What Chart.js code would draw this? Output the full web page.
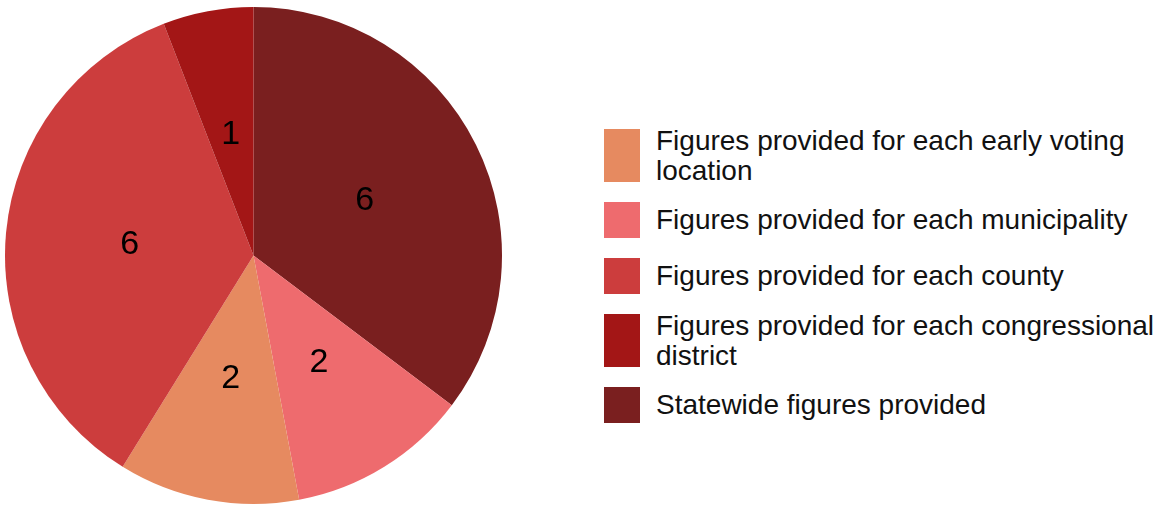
<!DOCTYPE html>
<html>
<head>
<meta charset="utf-8">
<script src="https://cdn.jsdelivr.net/npm/chart.js@4"></script>
<style>
    body { margin: 0; background: #fff; font-family: "Liberation Sans", Arial, sans-serif; }
    #wrap { position: relative; width: 1167px; height: 507px; overflow: hidden; }
    #pie-box { position: absolute; left: 0; top: 0; width: 507px; height: 507px; }
    #legend { position: absolute; left: 604px; top: 129px; margin: 0; padding: 0; list-style: none; }
    #legend li { display: flex; align-items: center; margin-bottom: 20px; }
    #legend .swatch { width: 36px; flex: none; }
    #legend .text { width: 508px; margin-left: 16px; font-size: 28px; line-height: 30px; color: #111; }
</style>
</head>
<body>
<div id="wrap">
    <div id="pie-box"><canvas id="pie"></canvas></div>
    <ul id="legend"></ul>
</div>
<script>
document.addEventListener('DOMContentLoaded', () => {
    // Slices, clockwise from 12 o'clock
    const categories = [
        'Statewide figures provided',
        'Figures provided for each municipality',
        'Figures provided for each early voting location',
        'Figures provided for each county',
        'Figures provided for each congressional district',
    ];
    const counts = [6, 2, 2, 6, 1];
    const sliceColors = ['#7a1f1f', '#ee6b6e', '#e68a60', '#cc3d3d', '#a31616'];
    // Order the legend lists the slices in
    const legendOrder = [2, 1, 3, 4, 0];

    // Writes each slice's count halfway out along its middle angle
    const sliceValues = {
        id: 'sliceValues',
        afterDatasetsDraw(chart) {
            const ctx = chart.ctx;
            const meta = chart.getDatasetMeta(0);
            ctx.save();
            ctx.font = '34px "Liberation Sans", Arial, sans-serif';
            ctx.fillStyle = '#000';
            ctx.textAlign = 'center';
            ctx.textBaseline = 'middle';
            meta.data.forEach((arc, i) => {
                const pos = arc.tooltipPosition();
                ctx.fillText(String(chart.data.datasets[0].data[i]), pos.x, pos.y + 1);
            });
            ctx.restore();
        },
    };

    // Legend built as a list next to the canvas
    const htmlLegend = {
        id: 'htmlLegend',
        afterUpdate(chart) {
            const list = document.getElementById('legend');
            list.innerHTML = '';
            const items = chart.options.plugins.legend.labels.generateLabels(chart);
            legendOrder.forEach((idx) => {
                const item = items[idx];
                const li = document.createElement('li');
                const swatch = document.createElement('span');
                swatch.className = 'swatch';
                swatch.style.background = item.fillStyle;
                const text = document.createElement('span');
                text.className = 'text';
                text.textContent = item.text;
                li.appendChild(swatch);
                li.appendChild(text);
                list.appendChild(li);

                const lines = Math.round(text.offsetHeight / 30);
                const h = 36 + 17 * (lines - 1);
                swatch.style.height = h + 'px';
                li.style.height = h + 'px';
            });
        },
    };

    const ctx = document.getElementById('pie').getContext('2d');
    new Chart(ctx, {
        type: 'pie',
        data: {
            labels: categories,
            datasets: [{
                data: counts,
                backgroundColor: sliceColors,
                borderWidth: 0,
                hoverOffset: 0,
            }],
        },
        options: {
            responsive: true,
            maintainAspectRatio: false,
            animation: false,
            layout: { padding: { left: 5, right: 5, top: 7, bottom: 3 } },
            plugins: {
                legend: { display: false },
                tooltip: { enabled: false },
            },
        },
        plugins: [sliceValues, htmlLegend],
    });
});
</script>
</body>
</html>
